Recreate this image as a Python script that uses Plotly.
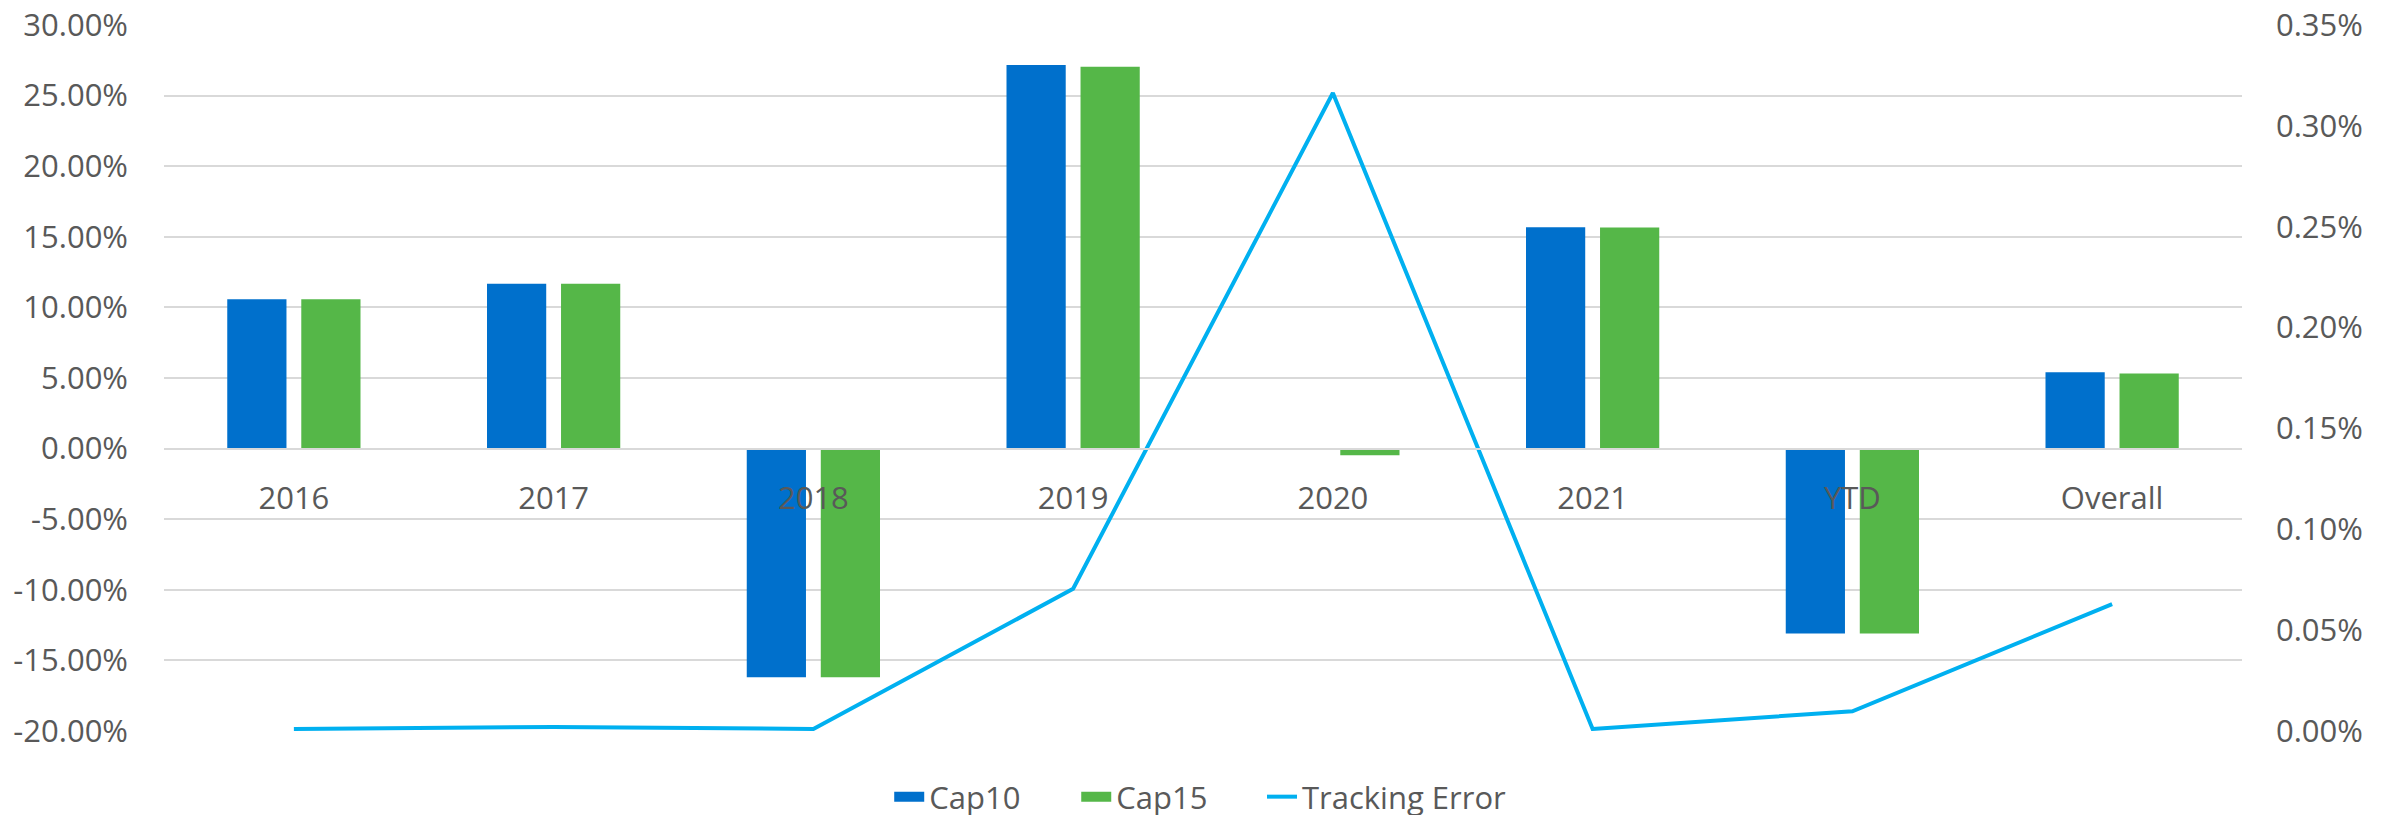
import plotly.graph_objects as go

categories = ["2016", "2017", "2018", "2019", "2020", "2021", "YTD", "Overall"]
cap10 = [0.1057, 0.1167, -0.1620, 0.2716, 0.0000, 0.1567, -0.1310, 0.0540]
cap15 = [0.1057, 0.1167, -0.1620, 0.2705, -0.0047, 0.1565, -0.1310, 0.0532]
tracking_error = [0.00001, 0.00002, 0.00001, 0.000705, 0.003163, 0.00001, 0.000098, 0.000629]

left_tickvals = [-0.20, -0.15, -0.10, -0.05, 0.0, 0.05, 0.10, 0.15, 0.20, 0.25, 0.30]
left_ticktext = ["-20.00%", "-15.00%", "-10.00%", "-5.00%", "0.00%", "5.00%",
                 "10.00%", "15.00%", "20.00%", "25.00%", "30.00%"]

TEXT = "#595959"
GRID = "#D9D9D9"
FONT = "Open Sans"
BLUE = "#0070CC"
GREEN = "#55B748"
CYAN = "#00B0F0"

fig = go.Figure()
fig.add_trace(go.Bar(x=categories, y=cap10, name="Cap10", marker=dict(color=BLUE, line=dict(width=0)),
                     showlegend=False, legendgroup="c10"))
fig.add_trace(go.Bar(x=categories, y=cap15, name="Cap15", marker=dict(color=GREEN, line=dict(width=0)),
                     showlegend=False, legendgroup="c15"))
fig.add_trace(go.Scatter(x=categories, y=tracking_error, name="Tracking Error", mode="lines",
                         line=dict(color=CYAN, width=4), yaxis="y2", showlegend=False, legendgroup="te"))

# legend entries (Excel-style wide rectangular swatches)
fig.add_trace(go.Scatter(x=[None], y=[None], name="Cap10", mode="lines",
                         line=dict(color=BLUE, width=20), legendgroup="c10", legend="legend"))
fig.add_trace(go.Scatter(x=[None], y=[None], name="Cap15", mode="lines",
                         line=dict(color=GREEN, width=20), legendgroup="c15", legend="legend2"))
fig.add_trace(go.Scatter(x=[None], y=[None], name="Tracking Error", mode="lines",
                         line=dict(color=CYAN, width=4), legendgroup="te", legend="legend3"))

leg_common = dict(orientation="h", xanchor="left", y=-0.0935, yanchor="middle",
                  font=dict(family=FONT, size=31, color=TEXT), itemwidth=30,
                  bgcolor="rgba(0,0,0,0)", borderwidth=0)

fig.update_layout(
    width=2394, height=815,
    margin=dict(l=156, r=160, t=17, b=92, autoexpand=False),
    paper_bgcolor="white", plot_bgcolor="white",
    font=dict(family=FONT, size=31, color=TEXT),
    barmode="group", bargap=0.43, bargroupgap=0.2,
    showlegend=True,
    legend=dict(x=0.349, **leg_common),
    legend2=dict(x=0.439, **leg_common),
    legend3=dict(x=0.5284, **leg_common),
    xaxis=dict(anchor="free", position=0.4, showline=True, linecolor=GRID, linewidth=2,
               showgrid=False, ticks="", ticklabelstandoff=22, ticklabeloverflow="allow",
               tickfont=dict(family=FONT, size=31, color=TEXT)),
    yaxis=dict(range=[-0.2, 0.3], tickvals=left_tickvals, ticktext=left_ticktext, showgrid=True,
               gridcolor=GRID, gridwidth=2, zeroline=False, showline=False,
               ticks="", ticklabelstandoff=35, ticklabeloverflow="allow",
               tickfont=dict(family=FONT, size=31, color=TEXT)),
    yaxis2=dict(range=[0, 0.0035], dtick=0.0005, tickformat=".2%", overlaying="y",
                side="right", showgrid=False, zeroline=False, showline=False,
                ticks="", ticklabelstandoff=33, ticklabeloverflow="allow",
                tickfont=dict(family=FONT, size=31, color=TEXT)),
)

fig.write_html("out.html")
